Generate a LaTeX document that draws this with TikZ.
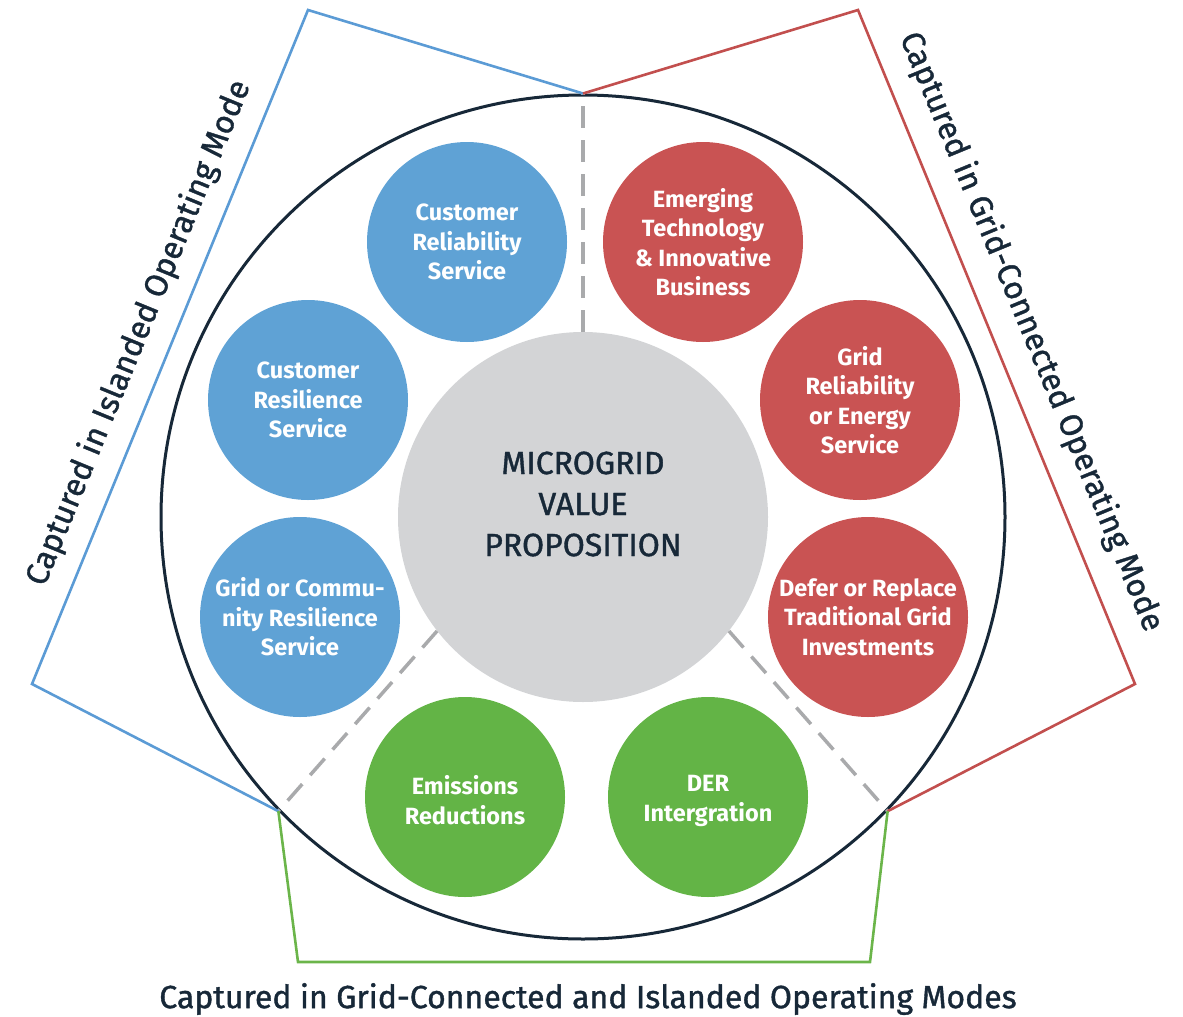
\documentclass[tikz,border=0pt]{standalone}
\usepackage{fontspec}
\setmainfont{Fira Sans}
\definecolor{bluefill}{HTML}{5FA2D5}
\definecolor{redfill}{HTML}{C95353}
\definecolor{greenfill}{HTML}{63B446}
\definecolor{grayfill}{HTML}{D3D4D6}
\definecolor{navy}{HTML}{172838}
\definecolor{blueline}{HTML}{5B9BD5}
\definecolor{redline}{HTML}{C24F4E}
\definecolor{greenline}{HTML}{6BB54A}
\definecolor{dashgray}{HTML}{A9AAAC}
\begin{document}
\begin{tikzpicture}[x=1pt,y=-1pt,
  value/.style={circle,minimum size=200pt,inner sep=0pt,text=white,align=center,
    font=\fontsize{23.5}{29.5}\selectfont\bfseries},
  bluev/.style={value,fill=bluefill},
  redv/.style={value,fill=redfill},
  greenv/.style={value,fill=greenfill},
  modeline/.style={line width=2.6pt,line join=miter},
  divider/.style={dashgray,line width=3.5pt,dash pattern=on 22pt off 12pt},
  modelabel/.style={font=\fontsize{32}{34}\selectfont\addfontfeature{FakeBold=1.2},text=navy,inner sep=0pt}]
\useasboundingbox (0,0) rectangle (1183,1017);

% outer ring and central proposition
\node[circle,draw=navy,line width=3pt,minimum size=844pt,inner sep=0pt] (outer) at (583,517) {};
\node[circle,fill=grayfill,minimum size=370pt,inner sep=0pt] (mvp) at (583,517) {};
\node[text=navy,align=center,inner sep=0pt,
  font=\fontsize{32}{41}\selectfont\addfontfeature{FakeBold=1.2}] (mvptext) at (583,504)
  {MICROGRID\\VALUE\\PROPOSITION};

% dashed dividers between the three groups
\draw[divider] (mvp.90) -- (outer.90);
\draw[divider] (mvp.218) -- (outer.224);
\draw[divider] (mvp.322) -- (outer.316);

% value streams
\node[bluev] (crs) at (467,242) {Customer\\Reliability\\Service};
\node[bluev] (cres) at (308,400) {Customer\\Resilience\\Service};
\node[bluev] (gcr) at (300,617) {Grid or Commu-\\nity Resilience\\Service};
\node[greenv] (emi) at (465,797) {};
\node[white,align=center,font=\fontsize{23.5}{29.5}\selectfont\bfseries] at (465,800) {Emissions\\Reductions};
\node[greenv] (der) at (708,797) {};
\node[white,align=center,font=\fontsize{23.5}{29.5}\selectfont\bfseries] at (708,801) {DER\\Intergration};
\node[redv] (dfr) at (868,617) {Defer or Replace\\Traditional Grid\\Investments};
\node[redv] (gre) at (860,400) {Grid\\Reliability\\or Energy\\Service};
\node[redv] (emt) at (703,242) {Emerging\\Technology\\\& Innovative\\Business};

% operating-mode brackets
\coordinate (bl) at (32,684);
\coordinate (bt) at (308,10);
\coordinate (rt) at (858,10);
\coordinate (rr) at (1135,684);
\coordinate (gl) at (298,962);
\coordinate (gr) at (870,962);
\draw[modeline,blueline] (outer.90) -- (bt) -- (bl) -- (outer.224);
\draw[modeline,redline] (outer.90) -- (rt) -- (rr) -- (outer.316);
\draw[modeline,greenline] (outer.224) -- (gl) -- (gr) -- (outer.316);

% mode captions
\node[modelabel,rotate=67.7] (isl) at (139,333) {Captured in Islanded Operating Mode};
\node[modelabel,rotate=-67.6] (gcm) at (1031,332) {Captured in Grid-Connected Operating Mode};
\node[modelabel] (both) at (588,999) {Captured in Grid-Connected and Islanded Operating Modes};
\end{tikzpicture}
\end{document}
